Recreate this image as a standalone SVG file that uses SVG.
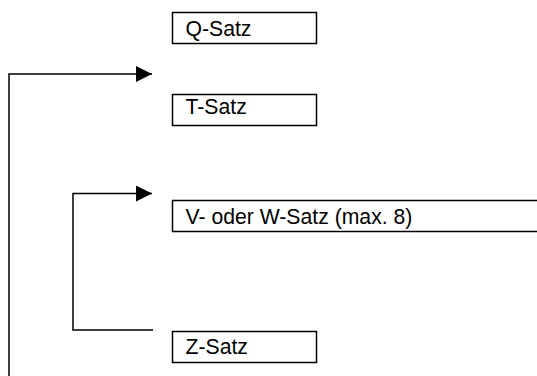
<svg xmlns="http://www.w3.org/2000/svg" width="537" height="376" viewBox="0 0 537 376">
<defs>
<style>
.box{fill:#fff;stroke:#000;stroke-width:1.5}
.lbl{font-family:"Liberation Sans",Arial,sans-serif;font-size:21.2px;fill:#000}
.con{fill:none;stroke:#000;stroke-width:1.5}
</style>
<marker id="ah" viewBox="0 0 16 16" refX="16" refY="8" markerWidth="16" markerHeight="16" markerUnits="userSpaceOnUse" orient="auto">
<path d="M0,0 L16,8 L0,16 Z" fill="#000"/>
</marker>
</defs>
<rect width="537" height="376" fill="#fff"/>
<g id="connectors">
<path class="con" d="M9,376 L9,74 L152,74" marker-end="url(#ah)"/>
<path class="con" d="M153,330 L73,330 L73,193.5 L152,193.5" marker-end="url(#ah)"/>
</g>
<g id="q-satz"><rect class="box" x="172.5" y="12.5" width="144" height="31"/><text class="lbl" x="185.5" y="35.5">Q-Satz</text></g>
<g id="t-satz"><rect class="box" x="172.5" y="94.5" width="144" height="31"/><text class="lbl" x="185.5" y="113.5">T-Satz</text></g>
<g id="vw-satz"><rect class="box" x="172.5" y="200.5" width="380" height="31"/><text class="lbl" x="185.5" y="223.5">V- oder W-Satz (max. 8)</text></g>
<g id="z-satz"><rect class="box" x="172.5" y="331.5" width="144" height="31"/><text class="lbl" x="185.5" y="353.5">Z-Satz</text></g>
</svg>
